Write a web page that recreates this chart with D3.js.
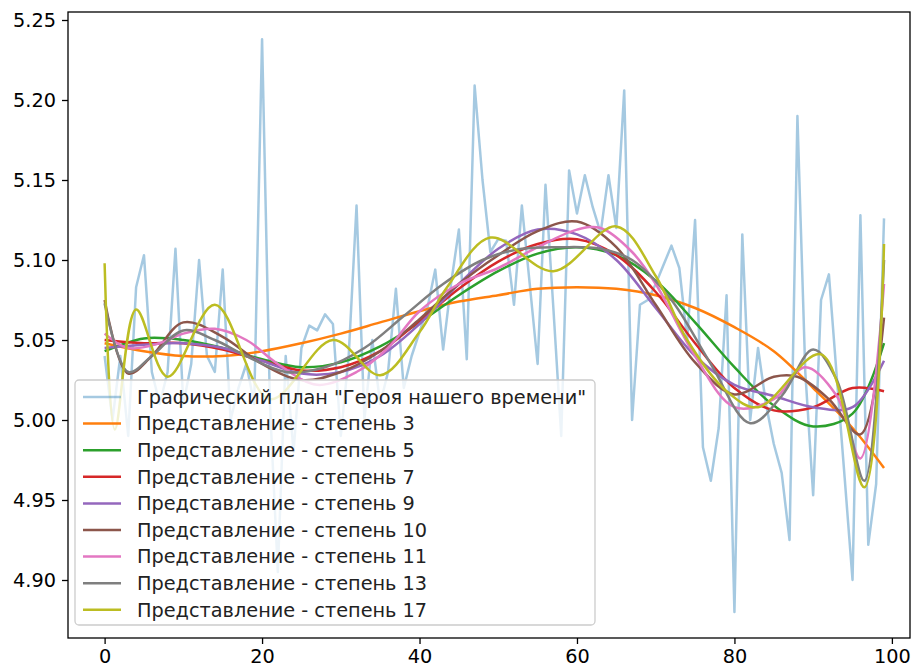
<!DOCTYPE html>
<html>
<head>
<meta charset="utf-8">
<script src="https://cdn.jsdelivr.net/npm/d3@7"></script>
<style>
  body { margin: 0; background: #fff; }
  text { font-family: "DejaVu Sans", sans-serif; }
</style>
</head>
<body>
<svg id="chart" width="912" height="669"></svg>
<script>
// noisy series, one value per sample 0..99
const plotValues = [
  5.040, 5.000, 5.040, 4.990, 5.083, 5.103, 5.030, 5.010, 5.030, 5.107,
  5.010, 5.035, 5.100, 5.040, 5.030, 5.094, 5.000, 5.020, 5.035, 5.010,
  5.238, 5.010, 4.905, 5.040, 4.980, 5.045, 5.059, 5.056, 5.066, 5.060,
  4.990, 5.040, 5.134, 5.000, 5.050, 5.010, 5.030, 5.082, 5.020, 5.040,
  5.055, 5.070, 5.094, 5.044, 5.085, 5.119, 5.038, 5.209, 5.150, 5.105,
  5.113, 5.112, 5.072, 5.134, 5.085, 5.035, 5.147, 5.070, 4.990, 5.156,
  5.129, 5.153, 5.133, 5.117, 5.153, 5.120, 5.206, 5.000, 5.072, 5.075,
  5.085, 5.097, 5.109, 5.095, 5.050, 5.125, 4.983, 4.962, 4.995, 5.078,
  4.880, 5.116, 5.000, 5.045, 5.010, 4.985, 4.967, 4.925, 5.190, 5.030,
  4.953, 5.075, 5.091, 5.027, 4.964, 4.900, 5.128, 4.922, 4.960, 5.126
];

const fit3 = [[0,5.048],[5,5.043],[10,5.040],[15,5.040],[20,5.043],[25,5.048],[30,5.054],[35,5.061],[40,5.068],[45,5.074],[50,5.078],[55,5.082],[60,5.083],[65,5.082],[70,5.078],[75,5.070],[80,5.058],[85,5.043],[90,5.020],[95,4.995],[99,4.970]];
const fit5 = [[0,5.043],[5,5.051],[10,5.050],[15,5.045],[20,5.038],[25,5.033],[30,5.036],[35,5.046],[40,5.061],[45,5.078],[50,5.093],[55,5.104],[60,5.108],[65,5.103],[70,5.087],[75,5.061],[80,5.033],[85,5.009],[90,4.996],[95,5.004],[99,5.048]];
const fit7 = [[0,5.050],[5,5.048],[10,5.048],[15,5.044],[20,5.037],[25,5.031],[30,5.033],[35,5.043],[40,5.062],[45,5.082],[50,5.099],[55,5.110],[60,5.113],[65,5.103],[70,5.080],[75,5.048],[80,5.020],[85,5.006],[90,5.008],[95,5.020],[99,5.018]];
const fit9 = [[0,5.045],[5,5.047],[10,5.048],[15,5.045],[20,5.037],[25,5.029],[30,5.030],[35,5.040],[40,5.060],[45,5.085],[50,5.107],[55,5.119],[60,5.116],[65,5.100],[70,5.070],[75,5.040],[80,5.022],[85,5.015],[90,5.008],[95,5.008],[99,5.037]];
const fit10 = [[0,5.075],[3,5.029],[6,5.040],[10,5.061],[15,5.052],[20,5.035],[25,5.025],[30,5.030],[35,5.043],[40,5.063],[45,5.085],[50,5.103],[55,5.118],[60,5.124],[65,5.108],[70,5.072],[75,5.036],[80,5.016],[85,5.027],[88,5.027],[92,5.013],[96,4.991],[99,5.064]];
const fit11 = [[0,5.054],[3,5.045],[7,5.048],[10,5.054],[14,5.057],[18,5.050],[22,5.035],[27,5.022],[32,5.030],[36,5.045],[40,5.068],[45,5.085],[50,5.095],[55,5.108],[60,5.119],[63,5.120],[67,5.105],[70,5.085],[75,5.040],[80,5.008],[85,5.013],[89,5.033],[93,5.015],[96,4.976],[99,5.085]];
const fit13 = [[0,5.073],[3,5.030],[6,5.040],[10,5.056],[14,5.050],[18,5.040],[23,5.030],[28,5.033],[33,5.045],[38,5.065],[43,5.085],[48,5.100],[53,5.107],[58,5.108],[63,5.107],[67,5.100],[72,5.075],[77,5.035],[82,4.998],[86,5.015],[90,5.044],[93,5.025],[96.5,4.962],[99,5.100]];
const fit17 = [[0,5.098],[1.3,4.994],[4,5.069],[8,5.027],[14,5.072],[21,5.013],[29,5.050],[35,5.028],[40,5.055],[43.5,5.083],[49,5.114],[57,5.093],[65,5.121],[70,5.090],[74,5.050],[79,5.018],[83,5.008],[91,5.041],[96.5,4.958],[99,5.110]];

const seriesLabels = [
  'Графический план "Героя нашего времени"',
  "Представление - степень 3", "Представление - степень 5", "Представление - степень 7",
  "Представление - степень 9", "Представление - степень 10", "Представление - степень 11",
  "Представление - степень 13", "Представление - степень 17"
];
const fits = [fit3, fit5, fit7, fit9, fit10, fit11, fit13, fit17];
const colors = ["#1f77b4", "#ff7f0e", "#2ca02c", "#d62728", "#9467bd", "#8c564b", "#e377c2", "#7f7f7f", "#bcbd22"];

const xTicks = [0, 20, 40, 60, 80, 100];
const yTicks = [4.90, 4.95, 5.00, 5.05, 5.10, 5.15, 5.20, 5.25];

const box = { left: 68, right: 910, top: 12, bottom: 638 };
const fontSize = 19.3;

const svg = d3.select("#chart");

const x = d3.scaleLinear().domain([-4.65, 102.3]).range([box.left, box.right]);
const y = d3.scaleLinear().domain([4.86375, 5.255]).range([box.bottom, box.top]);

const plot = svg.append("g");

// raw series
const line = d3.line()
  .x(d => x(d[0]))
  .y(d => y(d[1]));

plot.append("path")
  .datum(plotValues.map((v, i) => [i, v]))
  .attr("fill", "none")
  .attr("stroke", colors[0])
  .attr("stroke-opacity", 0.4)
  .attr("stroke-width", 2.5)
  .attr("stroke-linejoin", "round")
  .attr("d", line);

// fitted curves
const smooth = d3.line()
  .x(d => x(d[0]))
  .y(d => y(d[1]))
  .curve(d3.curveCatmullRom.alpha(0.5));

fits.forEach((f, k) => {
  plot.append("path")
    .datum(f)
    .attr("fill", "none")
    .attr("stroke", colors[k + 1])
    .attr("stroke-width", 2.5)
    .attr("d", smooth);
});

// axes
svg.append("g")
  .attr("transform", `translate(0,${box.bottom})`)
  .call(d3.axisBottom(x).tickValues(xTicks).tickFormat(d3.format("d")).tickSize(6).tickPadding(5))
  .call(g => g.select(".domain").remove())
  .call(g => g.selectAll("line").attr("stroke-width", 1.3))
  .call(g => g.selectAll("text").attr("font-size", fontSize).attr("fill", "#000").style("font-family", "DejaVu Sans"));

svg.append("g")
  .attr("transform", `translate(${box.left},0)`)
  .call(d3.axisLeft(y).tickValues(yTicks).tickFormat(d3.format(".2f")).tickSize(6).tickPadding(6))
  .call(g => g.select(".domain").remove())
  .call(g => g.selectAll("line").attr("stroke-width", 1.3))
  .call(g => g.selectAll("text").attr("font-size", fontSize).attr("fill", "#000").style("font-family", "DejaVu Sans"));

svg.append("rect")
  .attr("x", box.left).attr("y", box.top)
  .attr("width", box.right - box.left).attr("height", box.bottom - box.top)
  .attr("fill", "none").attr("stroke", "#000").attr("stroke-width", 1.3);

// legend
const lg = svg.append("g");
lg.append("rect")
  .attr("x", 75).attr("y", 380).attr("width", 520).attr("height", 245)
  .attr("rx", 4)
  .attr("fill", "#fff").attr("fill-opacity", 0.8)
  .attr("stroke", "#cccccc").attr("stroke-width", 1.3);

seriesLabels.forEach((lab, k) => {
  const cy = 397 + k * 26.6;
  lg.append("line")
    .attr("x1", 83).attr("x2", 121).attr("y1", cy).attr("y2", cy)
    .attr("stroke", colors[k]).attr("stroke-width", 2.5)
    .attr("stroke-opacity", k === 0 ? 0.4 : 1);
  lg.append("text")
    .attr("x", 137).attr("y", cy)
    .attr("dy", "0.35em")
    .attr("font-size", fontSize)
    .attr("fill", "#222")
    .text(lab);
});
</script>
</body>
</html>
